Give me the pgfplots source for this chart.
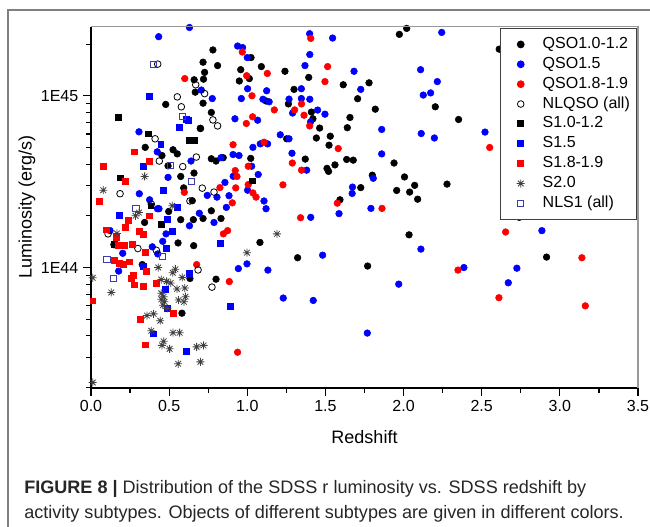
\documentclass[border=0pt]{standalone}
\usepackage{pgfplots}
\pgfplotsset{compat=1.18}
\usepackage{fontspec}
\setmainfont{Liberation Sans}

\definecolor{qblue}{RGB}{0,0,255}
\definecolor{qred}{RGB}{255,0,0}
\definecolor{nlsblue}{RGB}{60,60,170}
\definecolor{framegray}{RGB}{128,128,128}

% eight-armed asterisk like the Origin symbol
\pgfdeclareplotmark{ast8}{%
  \pgfpathmoveto{\pgfqpoint{-\pgfplotmarksize}{0pt}}\pgfpathlineto{\pgfqpoint{\pgfplotmarksize}{0pt}}%
  \pgfpathmoveto{\pgfqpoint{0pt}{-\pgfplotmarksize}}\pgfpathlineto{\pgfqpoint{0pt}{\pgfplotmarksize}}%
  \pgfpathmoveto{\pgfqpoint{-.707\pgfplotmarksize}{-.707\pgfplotmarksize}}\pgfpathlineto{\pgfqpoint{.707\pgfplotmarksize}{.707\pgfplotmarksize}}%
  \pgfpathmoveto{\pgfqpoint{-.707\pgfplotmarksize}{.707\pgfplotmarksize}}\pgfpathlineto{\pgfqpoint{.707\pgfplotmarksize}{-.707\pgfplotmarksize}}%
  \pgfusepathqstroke}

\begin{document}
\begin{tikzpicture}
\useasboundingbox (0,0) rectangle (487.5pt,-395.25pt);
\draw[framegray, line width=1.1pt] (6pt,-7.5pt) rectangle (520pt,-430pt);
\begin{axis}[
    at={(68.25pt,-291pt)}, anchor=south west,
    scale only axis, width=410.25pt, height=270.75pt,
    xmin=0, xmax=3.5,
    ymode=log, ymin=1.99e43, ymax=2.52e45,
    axis lines=left, axis line style={-, line width=1.1pt},
    tick align=outside,
    major tick length=6pt, minor tick length=3.5pt,
    every tick/.style={black, line width=0.9pt},
    xtick={0,0.5,1,1.5,2,2.5,3,3.5}, minor x tick num=1,
    ytick={1e44,1e45}, yticklabels={1E44,1E45},
    minor ytick={2e43,3e43,4e43,5e43,6e43,7e43,8e43,9e43,2e44,3e44,4e44,5e44,6e44,7e44,8e44,9e44,2e45},
    xticklabel style={/pgf/number format/.cd, fixed, fixed zerofill, precision=1, assume math mode=true},
    ticklabel style={font=\fontsize{12}{14}\selectfont},
    xlabel={Redshift}, ylabel={Luminosity (erg/s)},
    label style={font=\fontsize{13.5}{15}\selectfont},
    xlabel style={at={(axis description cs:0.5,-0.1357)}, anchor=center},
    ylabel style={at={(axis description cs:-0.117,0.5)}, anchor=center},
    legend style={at={(1,1)}, anchor=north east, xshift=-0.7pt, yshift=-0.7pt,
        draw=black!75, line width=0.8pt, inner ysep=4.6pt,
        font=\fontsize{12}{14}\selectfont, cells={anchor=west},
        nodes={text height=9.5pt, text depth=3.4pt, inner ysep=1pt}},
    legend image code/.code={\path[draw=none, fill=none] (0pt,0pt) -- (27pt,0pt);
        \draw[#1] plot coordinates {(12.5pt,0pt)};},
    after end axis/.code={\draw[black!40, line width=0.8pt] (rel axis cs:0,1) -- (rel axis cs:1,1) -- (rel axis cs:1,0);},
]
% QSO1.0-1.2
\addplot[only marks, mark=*, mark size=2.5pt, mark options={draw=black, fill=black}] coordinates {
(0.78,1.85e45)(0.717,1.57e45)(0.727,1.37e45)(0.66,1.24e45)(0.72,1.25e45)(0.667,1.05e45)
(0.717,9.06e44)(0.478,8.91e44)(0.77,8.0e44)(0.70,6.46e44)(0.347,5.01e44)(0.525,4.85e44)
(0.552,4.59e44)(0.454,4.49e44)(0.493,3.91e44)(0.77,4.30e44)(0.80,4.17e44)(0.574,3.39e44)
(0.659,3.55e44)(0.593,2.91e44)(0.648,2.45e44)(0.497,2.12e44)(0.77,2.14e44)(0.343,1.83e44)
(0.574,1.90e44)(0.655,1.90e44)(0.717,1.93e44)(0.557,1.39e44)(0.657,1.34e44)(0.328,1.04e44)
(0.633,8.63e43)(0.582,5.42e43)
(1.024,1.67e45)(0.81,1.50e45)(1.09,1.48e45)(0.958,1.42e45)(1.241,1.39e45)(1.393,1.28e45)
(1.614,1.16e45)(1.013,1.26e45)(0.949,1.22e45)(1.12,9.33e44)(1.299,1.09e45)(1.263,8.97e44)
(1.41,8.04e44)(1.42,7.35e44)(1.463,6.49e44)(1.64,6.52e44)(1.442,5.68e44)(1.531,5.82e44)
(1.252,5.62e44)(0.846,4.36e44)(1.022,4.32e44)(1.523,5.16e44)(1.636,4.26e44)(1.371,4.28e44)
(1.51,3.78e44)(1.52,3.63e44)(1.561,3.96e44)(1.593,2.48e44)
(0.832,1.93e44)(1.081,1.40e44)(1.322,1.14e44)(0.80,8.55e43)
(1.973,2.28e45)(2.02,2.47e45)(2.612,1.87e45)(1.779,1.19e45)(1.706,9.62e44)(1.819,8.36e44)
(2.203,8.63e44)(1.657,7.48e44)(2.352,7.28e44)(1.678,4.22e44)(1.939,4.06e44)(1.80,3.45e44)
(2.006,3.37e44)(2.071,3.01e44)(2.278,3.06e44)(1.726,2.92e44)(1.956,2.81e44)(2.039,2.75e44)
(2.09,2.50e44)(2.74,1.96e44)(2.035,1.55e44)(1.77,1.02e44)(2.915,1.15e44)
};
\addlegendentry{QSO1.0-1.2}
% QSO1.5
\addplot[only marks, mark=*, mark size=2.5pt, mark options={draw=qblue, fill=qblue}] coordinates {
(0.433,2.21e45)(0.63,2.5e45)(0.706,1.08e45)(0.776,9.64e44)(0.307,6.17e44)(0.424,4.72e44)
(0.64,4.17e44)(0.493,3.35e44)(0.309,2.69e44)(0.744,2.63e44)(0.375,2.48e44)(0.435,2.20e44)
(0.425,2.20e44)(0.693,2.07e44)(0.787,1.83e44)(0.63,1.75e44)(0.122,1.64e44)(0.48,1.57e44)
(0.459,1.42e44)(0.392,1.32e44)(0.427,1.20e44)(0.203,1.21e44)(0.177,9.53e43)
(1.399,2.30e45)(1.546,2.17e45)(0.938,1.95e45)(0.97,1.91e45)(1.0,1.67e45)(1.40,1.74e45)
(1.369,1.50e45)(1.002,1.10e45)(1.124,1.07e45)(0.962,9.64e44)(1.10,9.55e44)(1.14,9.23e44)
(1.346,1.10e45)(1.267,9.57e44)(1.346,9.64e44)(1.40,9.55e44)(1.29,7.94e44)(1.45,8.26e44)
(1.497,7.82e44)(1.405,7.06e44)(0.921,7.35e44)(1.066,7.21e44)(1.211,5.93e44)(1.267,5.62e44)
(1.083,5.25e44)(1.13,5.25e44)(1.036,5.01e44)(0.909,4.55e44)(0.947,4.49e44)(0.832,4.36e44)
(1.028,3.89e44)(1.286,4.63e44)(1.38,3.69e44)(0.91,3.40e44)(1.07,3.48e44)(0.857,3.13e44)
(1.002,2.82e44)(0.883,2.62e44)(1.107,2.44e44)(0.806,2.57e44)
(0.866,2.24e44)(1.12,2.20e44)(1.406,1.96e44)(1.587,2.06e44)(1.482,1.18e44)(0.943,9.86e43)
(0.998,1.05e44)(1.132,9.66e43)(1.23,6.64e43)(1.422,6.43e43)
(2.244,2.34e45)(1.683,1.39e45)(1.726,1.09e45)(2.109,1.42e45)(2.216,1.21e45)(2.173,1.04e45)
(2.126,1.01e45)(1.86,6.37e44)(2.113,6.03e44)(2.197,5.68e44)(2.521,6.15e44)(1.86,4.59e44)
(1.806,3.31e44)(1.673,2.94e44)(1.671,2.70e44)(1.791,2.21e44)
(2.885,1.64e44)(2.111,1.28e44)(2.386,1.00e44)(2.725,9.91e43)(1.969,8.0e43)(2.67,8.15e43)
(1.768,4.15e43)
};
\addlegendentry{QSO1.5}
% QSO1.8-1.9
\addplot[only marks, mark=*, mark size=2.5pt, mark options={draw=qred, fill=qred}] coordinates {
(0.60,1.26e45)(0.597,2.74e44)(0.676,1.04e44)
(1.406,2.16e45)(0.968,1.80e45)(1.128,1.35e45)(1.514,1.48e45)(1.497,1.21e45)(0.996,1.31e45)
(1.03,1.00e45)(1.173,8.28e44)(1.347,8.97e44)(1.303,8.28e44)(1.363,7.71e44)(1.399,6.68e44)
(1.034,7.55e44)(0.994,6.90e44)(1.107,5.37e44)(0.909,5.19e44)(1.006,3.89e44)(1.288,4.06e44)
(1.582,4.93e44)(1.347,3.69e44)(0.923,3.67e44)(0.934,3.39e44)(0.825,2.92e44)(1.006,3.04e44)
(0.926,2.91e44)(1.036,2.72e44)(1.056,2.57e44)(1.228,3.03e44)(1.576,2.37e44)(0.904,2.38e44)
(1.341,1.95e44)(0.847,1.57e44)(0.874,1.64e44)(0.885,8.28e43)(0.938,3.21e43)
(2.551,5.00e44)(1.862,2.21e44)
(2.653,1.61e44)(2.348,9.66e43)(3.141,1.14e44)(2.61,6.67e43)(3.163,5.98e43)
};
\addlegendentry{QSO1.8-1.9}
% NLQSO (all)
\addplot[only marks, mark=o, mark size=2.5pt, mark options={draw=black, line width=0.6pt}] coordinates {
(0.427,1.53e45)(0.67,1.16e45)(0.727,1.03e45)(0.552,9.86e44)(0.578,8.63e44)(0.78,7.24e44)
(0.81,6.68e44)(0.70,6.46e44)(0.41,5.62e44)(0.437,4.17e44)(0.587,3.87e44)(0.674,4.40e44)
(0.186,2.69e44)(0.712,2.90e44)(0.787,2.75e44)(0.386,2.34e44)(0.109,1.57e44)(0.147,1.36e44)
(0.30,1.29e44)(0.418,1.26e44)(0.685,9.68e43)(0.774,7.69e43)(0.633,2.44e44)
};
\addlegendentry{NLQSO (all)}
% S1.0-1.2
\addplot[only marks, mark=square*, mark size=2.2pt, mark options={draw=black, fill=black}] coordinates {
(0.175,7.48e44)(0.365,6.01e44)(0.63,5.50e44)(0.66,5.50e44)(0.19,3.33e44)(0.382,2.29e44)
(0.448,1.79e44)(0.147,1.36e44)(0.245,1.08e44)(1.032,3.20e44)
};
\addlegendentry{S1.0-1.2}
% S1.5
\addplot[only marks, mark=square*, mark size=2.2pt, mark options={draw=qblue, fill=qblue}] coordinates {
(0.371,9.95e44)(0.625,7.24e44)(0.61,7.33e44)(0.563,6.53e44)(0.446,5.25e44)(0.335,3.91e44)
(0.465,2.82e44)(0.181,2.02e44)(0.552,2.25e44)(0.486,1.90e44)(0.518,1.62e44)(0.48,1.29e44)
(0.627,9.23e43)(0.473,7.48e43)(0.488,5.78e43)(0.40,4.11e43)(0.612,3.24e43)(0.827,1.39e44)
(0.889,5.96e43)(0.337,1.02e44)
};
\addlegendentry{S1.5}
% S1.8-1.9
\addplot[only marks, mark=square*, mark size=2.2pt, mark options={draw=qred, fill=qred}] coordinates {
(0.275,4.72e44)(0.371,4.14e44)(0.081,3.87e44)(0.218,3.18e44)(0.053,2.44e44)(0.371,2.00e44)
(0.241,1.88e44)(0.22,1.72e44)(0.096,1.66e44)(0.307,1.62e44)(0.333,1.57e44)(0.173,1.34e44)
(0.211,1.35e44)(0.264,1.37e44)(0.348,1.23e44)(0.149,1.10e44)(0.181,1.06e44)(0.207,1.05e44)
(0.245,1.08e44)(0.356,9.55e43)(0.26,8.63e43)(0.275,7.94e43)(0.416,8.11e43)(0.011,6.40e43)
(0.529,5.42e43)(0.313,4.98e43)(0.35,3.55e43)(0.162,1.50e44)(0.271,9.0e43)(0.337,7.80e43)
};
\addlegendentry{S1.8-1.9}
% S2.0
\addplot[only marks, mark=ast8, mark size=3pt, mark options={draw=black!75, line width=0.6pt}] coordinates {
(0.343,3.39e44)(0.079,2.82e44)(0.52,2.29e44)(0.307,2.09e44)(0.285,2.00e44)(0.166,1.58e44)
(0.43,1.00e44)(0.54,9.77e43)(0.523,9.33e43)(0.45,8.51e43)(0.584,8.75e43)(0.011,8.71e43)
(0.51,8.13e43)(0.484,8.3e43)(0.55,7.50e43)(0.60,7.59e43)(0.13,7.16e43)(0.45,7.08e43)
(0.465,6.76e43)(0.45,6.53e43)(0.47,6.31e43)(0.46,6.03e43)(0.605,6.76e43)(0.56,6.46e43)
(0.595,6.31e43)(0.488,5.78e43)(0.40,5.37e43)(0.358,5.25e43)(0.443,4.90e43)(0.386,4.28e43)
(0.525,4.17e43)(0.567,4.17e43)(0.465,3.72e43)(0.454,3.52e43)(0.503,3.36e43)(0.676,3.45e43)
(0.72,3.52e43)(0.558,2.75e43)(0.70,2.82e43)(0.011,2.14e43)(0.998,1.22e44)(1.19,1.57e44)
};
\addlegendentry{S2.0}
% NLS1 (all)
\addplot[only marks, mark=square, mark size=2.3pt, mark options={draw=nlsblue, line width=0.7pt}] coordinates {
(0.40,1.53e45)(0.584,7.59e44)(0.51,3.91e44)(0.644,3.16e44)(0.288,2.21e44)(0.456,1.16e44)
(0.102,1.12e44)(0.141,8.59e43)
};
\addlegendentry{NLS1 (all)}
\end{axis}
\node[anchor=base west, inner sep=0, font=\fontsize{13.55}{16}\selectfont, text=black!85] at (18pt,-370pt)
  {\textbf{FIGURE 8 |} Distribution of the SDSS r luminosity vs. SDSS redshift by};
\node[anchor=base west, inner sep=0, font=\fontsize{13.55}{16}\selectfont, text=black!85] at (18pt,-389pt)
  {activity subtypes. Objects of different subtypes are given in different colors.};
\end{tikzpicture}
\end{document}
